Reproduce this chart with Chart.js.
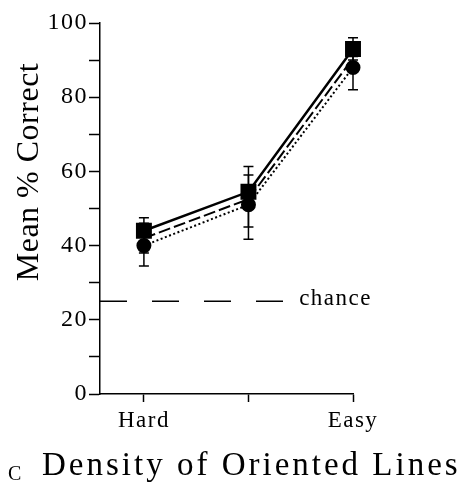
<!DOCTYPE html>
<html>
<head>
<meta charset="utf-8">
<script src="https://cdn.jsdelivr.net/npm/chart.js@4.4.1/dist/chart.umd.min.js"></script>
<style>
  html,body{margin:0;padding:0;background:#fff}
  #wrap{width:471px;height:482px;position:relative}
</style>
</head>
<body>
<div id="wrap"><canvas id="c1"></canvas></div>
<script>
// categorias no eixo x
const xPos = [1, 2, 3];
const xLabels = ['Hard', '', 'Easy'];
const xMin = 0.58, xMax = 3;

// séries (% correto)
const solidVals = [44, 54.5, 93];
const dashVals  = [42, 52.5, 90.5];
const dotVals   = [40, 51, 88];

// barras de erro (mín / máx)
const solidLow  = [38, 45, 90];
const solidHigh = [47.5, 61.3, 96];
const dotLow    = [34.5, 41.7, 82];
const dotHigh   = [46, 59, 91];

// linha de acaso
const chanceX = [0.58, 2.37];
const chanceY = 25;

const SERIF = '"Liberation Serif", "DejaVu Serif", serif';
const pts = vals => vals.map((v,i)=>({x:xPos[i], y:v}));

const errBars = {
  id:'errBars',
  beforeDatasetsDraw(chart){
    const {ctx, scales:{x,y}} = chart;
    ctx.save();
    ctx.strokeStyle = '#000';
    ctx.lineWidth = 1.5;
    [[solidLow,solidHigh],[dotLow,dotHigh]].forEach(([lo,hi])=>{
      xPos.forEach((xv,i)=>{
        const px = x.getPixelForValue(xv);
        const y1 = y.getPixelForValue(lo[i]), y2 = y.getPixelForValue(hi[i]);
        ctx.beginPath();
        ctx.moveTo(px,y1); ctx.lineTo(px,y2);
        ctx.moveTo(px-5,y1); ctx.lineTo(px+5,y1);
        ctx.moveTo(px-5,y2); ctx.lineTo(px+5,y2);
        ctx.stroke();
      });
    });
    ctx.restore();
  }
};

const texts = {
  id:'texts',
  beforeDraw(chart){ chart.ctx.letterSpacing = '1.5px'; },
  afterDraw(chart){
    const {ctx, scales:{x,y}} = chart;
    ctx.save();
    ctx.fillStyle = '#000';
    // chance
    ctx.font = '23px ' + SERIF;
    ctx.letterSpacing = '1.5px';
    ctx.textAlign = 'left';
    ctx.textBaseline = 'middle';
    ctx.fillText('chance', x.getPixelForValue(chanceX[1]) + 12, y.getPixelForValue(chanceY) - 2);
    // titulo y
    ctx.save();
    ctx.translate(30, 172);
    ctx.rotate(-Math.PI/2);
    ctx.font = '32px ' + SERIF;
    ctx.letterSpacing = '0.5px';
    ctx.textAlign = 'center';
    ctx.fillText('Mean % Correct', 0, 0);
    ctx.restore();
    // titulo x
    ctx.font = '33px ' + SERIF;
    ctx.letterSpacing = '3px';
    ctx.textBaseline = 'alphabetic';
    ctx.fillText('Density of Oriented Lines', 42, 475);
    ctx.font = '20px ' + SERIF;
    ctx.letterSpacing = '0px';
    ctx.fillText('C', 8, 480);
    ctx.restore();
  }
};

new Chart(document.getElementById('c1'), {
  type:'line',
  data:{
    datasets:[
      {data: chanceX.map(v=>({x:v, y:chanceY})), borderColor:'#000', borderWidth:1.5,
       borderDash:[27,25], pointRadius:0, fill:false},
      {data: pts(dashVals), borderColor:'#000', borderWidth:2, borderDash:[12,4],
       pointRadius:0, fill:false},
      {data: pts(dotVals), borderColor:'#000', borderWidth:2, borderDash:[2,2.5],
       pointStyle:'circle', pointRadius:6.5, pointBackgroundColor:'#000', pointBorderColor:'#000', fill:false},
      {data: pts(solidVals), borderColor:'#000', borderWidth:2.5,
       pointStyle:'rect', pointRadius:9.5, pointBackgroundColor:'#000', pointBorderColor:'#000', fill:false},
    ]
  },
  options:{
    responsive:true,
    maintainAspectRatio:false,
    animation:false,
    clip:false,
    layout:{padding:{top:23, right:118, left:0, bottom:0}},
    plugins:{legend:{display:false}, tooltip:{enabled:false}},
    scales:{
      x:{
        type:'linear', min:xMin, max:xMax,
        afterBuildTicks: s => { s.ticks = xPos.map(v=>({value:v})); },
        afterFit: s => { s.height = 88; },
        ticks:{color:'#000', font:{family:SERIF, size:23}, padding:5,
               callback:(v,i)=>xLabels[i]},
        grid:{drawOnChartArea:false, color:'#000', tickLength:8, tickWidth:1.5},
        border:{color:'#000', width:1.5}
      },
      y:{
        min:0, max:100,
        afterFit: s => { s.width = 100; },
        ticks:{stepSize:10, color:'#000', font:{family:SERIF, size:24}, padding:1,
               callback:v => v % 20 === 0 ? v : ''},
        grid:{drawOnChartArea:false, color:'#000', tickLength:11, tickWidth:1.5},
        border:{color:'#000', width:1.5}
      }
    }
  },
  plugins:[errBars, texts]
});
</script>
</body>
</html>
